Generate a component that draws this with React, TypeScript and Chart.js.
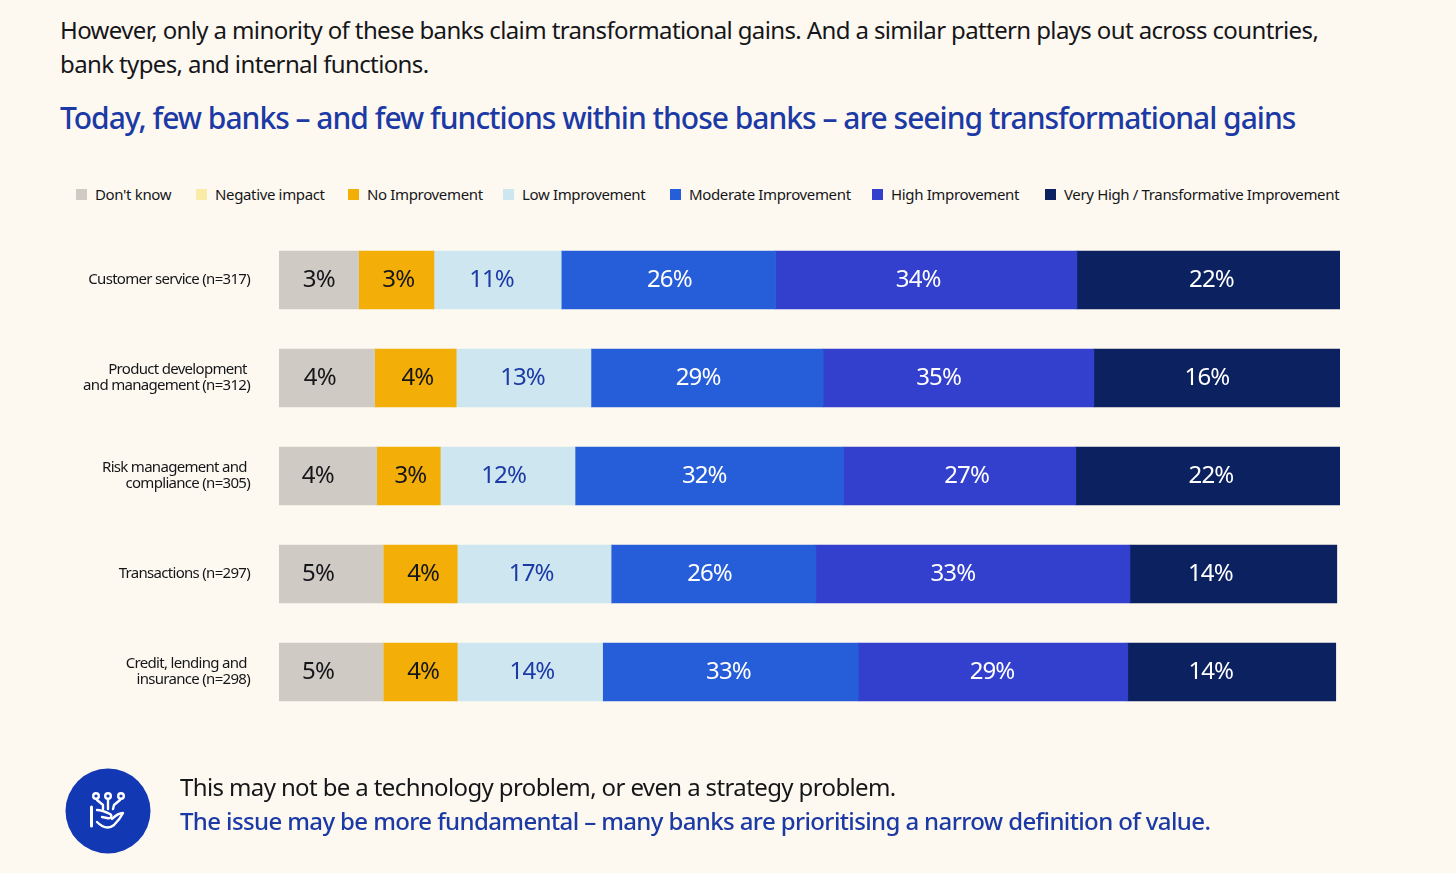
import { useEffect, useRef } from "react";
import { Chart, registerables } from "chart.js";

Chart.register(...registerables);

const FONT = '"Noto Sans", sans-serif';
const BG = "#fef9f0";
const INK = "#15161a";
const BLUE_TEXT = "#1c3aa5";

const categories = [
  "Customer service (n=317)",
  ["Product development ", "and management (n=312)"],
  ["Risk management and ", "compliance (n=305)"],
  "Transactions (n=297)",
  ["Credit, lending and ", "insurance (n=298)"],
];

const seriesNames = [
  "Don't know",
  "Negative impact",
  "No Improvement",
  "Low Improvement",
  "Moderate Improvement",
  "High Improvement",
  "Very High / Transformative Improvement",
];

// the source bars are not drawn to scale, so the drawn share of each segment
// is read off the picture and the printed percentages are kept next to it
const dontKnow = [7.5, 9.0, 9.2, 9.8, 9.8];
const negative = [0, 0, 0, 0, 0];
const noImprovement = [7.1, 7.7, 6.0, 7.0, 7.0];
const lowImprovement = [12.0, 12.7, 12.7, 14.5, 13.7];
const moderate = [20.2, 21.9, 25.3, 19.3, 24.1];
const high = [28.4, 25.5, 21.9, 29.6, 25.4];
const veryHigh = [24.8, 23.2, 24.9, 19.5, 19.6];

const dontKnowLabels = ["3%", "4%", "4%", "5%", "5%"];
const negativeLabels = ["", "", "", "", ""];
const noImprovementLabels = ["3%", "4%", "3%", "4%", "4%"];
const lowImprovementLabels = ["11%", "13%", "12%", "17%", "14%"];
const moderateLabels = ["26%", "29%", "32%", "26%", "33%"];
const highLabels = ["34%", "35%", "27%", "33%", "29%"];
const veryHighLabels = ["22%", "16%", "22%", "14%", "14%"];

const seriesValues = [dontKnow, negative, noImprovement, lowImprovement, moderate, high, veryHigh];
const seriesLabels = [
  dontKnowLabels,
  negativeLabels,
  noImprovementLabels,
  lowImprovementLabels,
  moderateLabels,
  highLabels,
  veryHighLabels,
];
const seriesColors = ["#cfcac4", "#f8eca6", "#f3af08", "#cee6f0", "#265dd8", "#3340ce", "#0c2260"];
const labelColors = [INK, INK, INK, BLUE_TEXT, "#ffffff", "#ffffff", "#ffffff"];

// the printed labels sit off centre in the source, px nudge per segment
const labelNudge = [
  [0, -7, -10, -13, -13],
  [0, 0, 0, 0, 0],
  [2, 2, 2, 3, 3],
  [-6, -1, -4, -3, 2],
  [1, -9, -5, -4, -2],
  [-8, -20, 7, -20, -1],
  [3, -10, 3, -23, -21],
];

// legend entries are not evenly spread in the source
const legendLeft = [76, 196, 348, 503, 670, 872, 1045];

const segmentLabels = {
  id: "segmentLabels",
  beforeDraw(chart: Chart) {
    (chart.ctx as any).letterSpacing = "-0.7px";
  },
  afterDatasetsDraw(chart: Chart) {
    const ctx = chart.ctx;
    ctx.save();
    (ctx as any).letterSpacing = "-0.9px";
    ctx.font = `400 24px ${FONT}`;
    ctx.textAlign = "center";
    ctx.textBaseline = "middle";
    seriesLabels.forEach((labels, i) => {
      chart.getDatasetMeta(i).data.forEach((bar: any, j) => {
        if (!labels[j]) return;
        ctx.fillStyle = labelColors[i];
        ctx.fillText(labels[j], (bar.x + bar.base) / 2 + labelNudge[i][j], bar.y);
      });
    });
    ctx.restore();
  },
};

function HandIcon() {
  return (
    <svg viewBox="0 0 86 86" style={{ position: "absolute", left: 65, top: 768, width: 86, height: 86 }}>
      <circle cx="43" cy="43" r="42.5" fill="#1238b4" />
      <g fill="none" stroke="#fff" strokeWidth="2.4" strokeLinecap="round" strokeLinejoin="round">
        <circle cx="31" cy="28" r="2.8" />
        <circle cx="43" cy="28" r="2.8" />
        <circle cx="56" cy="28" r="2.8" />
        <path d="M32 32 L38 37 L38 41 M43 32 L43 41 M55 32 L49 37 L48 41" />
        <path d="M26.5 39 L26.5 58" strokeWidth="3" />
        <path d="M32 42 C36 42 41 44 45 46 C48 48 46 51 42 50 L37 49" />
        <path d="M32 54 C38 60 44 61 49 57 C53 53 56 49 58 45 C54 45 50 48 47 51" />
      </g>
    </svg>
  );
}

const textStyle = {
  position: "absolute",
  margin: 0,
  whiteSpace: "nowrap",
  fontFamily: FONT,
} as const;

export default function App() {
  const canvasRef = useRef<HTMLCanvasElement>(null);

  useEffect(() => {
    const chart = new Chart(canvasRef.current!.getContext("2d")!, {
      type: "bar",
      data: {
        labels: categories as any,
        datasets: seriesNames.map((name, i) => ({
          label: name,
          data: seriesValues[i],
          backgroundColor: seriesColors[i],
          barThickness: 58,
          borderWidth: 0,
        })),
      },
      options: {
        indexAxis: "y",
        responsive: false,
        animation: false,
        layout: { padding: { left: 0, right: 116, top: 231, bottom: 152 } },
        plugins: { legend: { display: false }, tooltip: { enabled: false } },
        scales: {
          x: { stacked: true, min: 0, max: 100, display: false },
          y: {
            stacked: true,
            afterFit: (scale: any) => {
              scale.width = 279;
            },
            grid: { display: false, drawTicks: false },
            border: { display: false },
            ticks: {
              padding: 29,
              color: INK,
              font: { family: FONT, size: 15, lineHeight: 1.07 },
            },
          },
        },
      },
      plugins: [segmentLabels],
    });
    return () => chart.destroy();
  }, []);

  return (
    <div style={{ position: "absolute", left: 0, top: 0, width: 1456, height: 873, overflow: "hidden", background: BG }}>
      <p style={{ ...textStyle, left: 60, top: 13, fontSize: 24, lineHeight: "34px", color: INK, letterSpacing: "-0.62px" }}>
        However, only a minority of these banks claim transformational gains. And a similar pattern plays out across countries,
        <br />
        bank types, and internal functions.
      </p>
      <p style={{ ...textStyle, left: 60, top: 98, fontSize: 30, lineHeight: "40px", fontWeight: 500, color: BLUE_TEXT, letterSpacing: "-1px" }}>
        Today, few banks – and few functions within those banks – are seeing transformational gains
      </p>
      {seriesNames.map((name, i) => (
        <span key={name} style={{ position: "absolute", left: legendLeft[i], top: 184, height: 20, display: "flex", alignItems: "center", gap: 8, fontFamily: FONT, fontSize: 15, color: INK, letterSpacing: "-0.35px", whiteSpace: "nowrap" }}>
          <span style={{ width: 11, height: 11, background: seriesColors[i] }} />
          {name}
        </span>
      ))}
      <canvas ref={canvasRef} width={1456} height={873} style={{ position: "absolute", left: 0, top: 0 }} />
      <HandIcon />
      <p style={{ ...textStyle, left: 180, top: 770, fontSize: 24, lineHeight: "34px", color: INK, letterSpacing: "-0.62px" }}>
        This may not be a technology problem, or even a strategy problem.
        <br />
        <span style={{ fontWeight: 500, color: BLUE_TEXT }}>The issue may be more fundamental – many banks are prioritising a narrow definition of value.</span>
      </p>
    </div>
  );
}
